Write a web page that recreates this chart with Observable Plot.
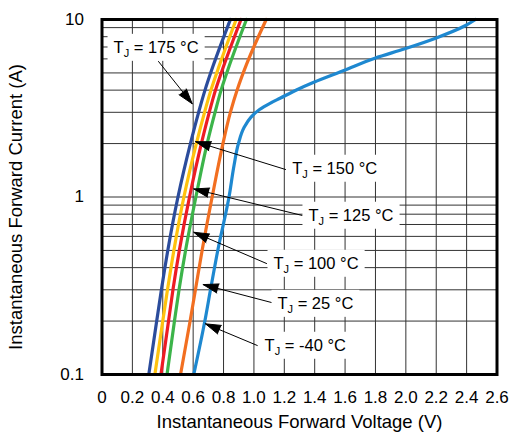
<!DOCTYPE html>
<html>
<head>
<meta charset="utf-8">
<script src="https://cdn.jsdelivr.net/npm/d3@7"></script>
<script src="https://cdn.jsdelivr.net/npm/@observablehq/plot@0.6"></script>
<style>
  html, body { margin: 0; padding: 0; background: #fff; }
  #chart svg { display: block; }
</style>
</head>
<body>
<div id="chart"></div>
<script>
// ---- Data ----
const seriesNames = ["175 °C", "150 °C", "125 °C", "100 °C", "25 °C", "-40 °C"];
const seriesColors = ["#2b4c9c", "#ffc20e", "#ed1c24", "#3cb44a", "#f26f21", "#1e88d0"];

// current levels (A) shared by the five hotter curves
const currentLevels = [0.1, 0.2, 0.3, 0.5, 1, 2, 3, 4, 5.5, 10];
const v175 = [0.308, 0.360, 0.391, 0.433, 0.500, 0.582, 0.636, 0.678, 0.732, 0.845];
const v150 = [0.348, 0.400, 0.431, 0.473, 0.539, 0.621, 0.675, 0.717, 0.772, 0.883];
const v125 = [0.388, 0.438, 0.467, 0.509, 0.576, 0.654, 0.706, 0.747, 0.802, 0.915];
const v100 = [0.428, 0.477, 0.507, 0.550, 0.618, 0.692, 0.744, 0.784, 0.838, 0.951];
const v25  = [0.517, 0.580, 0.615, 0.659, 0.725, 0.796, 0.845, 0.889, 0.948, 1.081];

// -40 °C curve
const vM40 = [0.604, 0.677, 0.714, 0.762, 0.836, 0.869, 0.898, 0.935, 0.981, 1.037, 1.103, 1.175, 1.280, 1.394, 1.592, 1.796, 1.993, 2.196, 2.393, 2.459];
const iM40 = [0.1, 0.2, 0.3, 0.5, 1, 1.505, 2, 2.46, 2.82, 3.11, 3.36, 3.61, 4.01, 4.43, 5.16, 6.05, 6.84, 7.85, 9.25, 10];

// axes
const xTicks = [0, 0.2, 0.4, 0.6, 0.8, 1.0, 1.2, 1.4, 1.6, 1.8, 2.0, 2.2, 2.4, 2.6];
const yTicks = [0.1, 1, 10];
const yGrid = [0.2, 0.3, 0.4, 0.5, 0.6, 0.7, 0.8, 0.9, 1, 2, 3, 4, 5, 6, 7, 8, 9];

// annotations: label start, arrow tail, arrow tip (V, A)
const annoLabels = ["175 °C", "150 °C", "125 °C", "100 °C", "25 °C", "-40 °C"];
const annoTextV = [0.076, 1.252, 1.359, 1.129, 1.155, 1.070];
const annoTextI = [6.95, 1.448, 0.787, 0.422, 0.251, 0.1457];
const annoTailV = [0.372, 1.208, 1.318, 1.083, 1.142, 1.022];
const annoTailI = [5.80, 1.429, 0.787, 0.422, 0.251, 0.1457];
const annoTipV  = [0.594, 0.616, 0.604, 0.604, 0.666, 0.681];
const annoTipI  = [3.35, 2.05, 1.11, 0.633, 0.321, 0.193];

// ---- Build tables ----
const hotVoltages = [v175, v150, v125, v100, v25];
const rows = [];
hotVoltages.forEach((vs, s) => vs.forEach((v, k) => rows.push({series: seriesNames[s], v, i: currentLevels[k]})));
vM40.forEach((v, k) => rows.push({series: seriesNames[5], v, i: iM40[k]}));

const anno = annoLabels.map((label, k) => ({
  label, tv: annoTextV[k], ti: annoTextI[k],
  x1: annoTailV[k], y1: annoTailI[k], x2: annoTipV[k], y2: annoTipI[k]
}));

const font = "'Liberation Sans', Arial, Helvetica, sans-serif";

const chart = Plot.plot({
  width: 511,
  height: 437,
  marginLeft: 101.5,
  marginRight: 14.5,
  marginTop: 19,
  marginBottom: 63,
  style: {fontFamily: font, fontSize: "17px", background: "#fff", color: "#000"},
  x: {domain: [0, 2.6]},
  y: {type: "log", domain: [0.1, 10]},
  color: {domain: seriesNames, range: seriesColors},
  marks: [
    Plot.ruleX(xTicks.slice(1, -1), {stroke: "#333", strokeWidth: 1}),
    Plot.ruleY(yGrid, {stroke: "#333", strokeWidth: 1}),
    Plot.line(rows, {x: "v", y: "i", z: "series", stroke: "series", strokeWidth: 3.2, curve: "monotone-y"}),
    Plot.arrow(anno, {x1: "x1", y1: "y1", x2: "x2", y2: "y2", stroke: "#000", fill: "#000",
      strokeWidth: 1, headLength: 24, headAngle: 34, strokeLinejoin: "miter"}),
    Plot.text(anno, {x: "tv", y: "ti", text: "label", textAnchor: "start", fill: "#000",
      fontSize: 16.5, className: "anno-label"}),
    Plot.frame({stroke: "#000", strokeWidth: 3}),
    Plot.axisX({ticks: xTicks, tickSize: 0, tickPadding: 16, label: null, fontSize: 17,
      tickFormat: d => d === 0 ? "0" : d.toFixed(1)}),
    Plot.axisY({ticks: yTicks, tickSize: 0, tickPadding: 18, label: null, fontSize: 17,
      tickFormat: d => String(d)}),
    Plot.text(["Instantaneous Forward Voltage (V)"], {frameAnchor: "bottom", dy: 53, text: d => d, fontSize: 18.5, textAnchor: "middle"}),
    Plot.text(["Instantaneous Forward Current (A)"], {frameAnchor: "left", dx: -86, dy: 10, rotate: -90, text: d => d, fontSize: 18.5, textAnchor: "middle"})
  ]
});

document.getElementById("chart").append(chart);

// subscript "J" and white label boxes
const svgNS = "http://www.w3.org/2000/svg";
chart.querySelectorAll("g.anno-label text").forEach(t => {
  const rest = t.textContent;
  while (t.firstChild) t.removeChild(t.firstChild);
  const a = document.createElementNS(svgNS, "tspan"); a.textContent = "T";
  const b = document.createElementNS(svgNS, "tspan"); b.textContent = "J";
  b.setAttribute("font-size", "11"); b.setAttribute("dy", "4");
  const c = document.createElementNS(svgNS, "tspan"); c.textContent = "\u00a0= " + rest;
  c.setAttribute("dy", "-4");
  t.append(a, b, c);
  const bb = t.getBBox();
  const r = document.createElementNS(svgNS, "rect");
  r.setAttribute("x", bb.x - 6);
  r.setAttribute("y", bb.y - 4);
  r.setAttribute("width", bb.width + 12);
  r.setAttribute("height", bb.height + 6);
  r.setAttribute("fill", "#fff");
  r.setAttribute("stroke", "none");
  const tr = t.getAttribute("transform");
  if (tr) r.setAttribute("transform", tr);
  t.parentNode.insertBefore(r, t);
});
</script>
</body>
</html>
